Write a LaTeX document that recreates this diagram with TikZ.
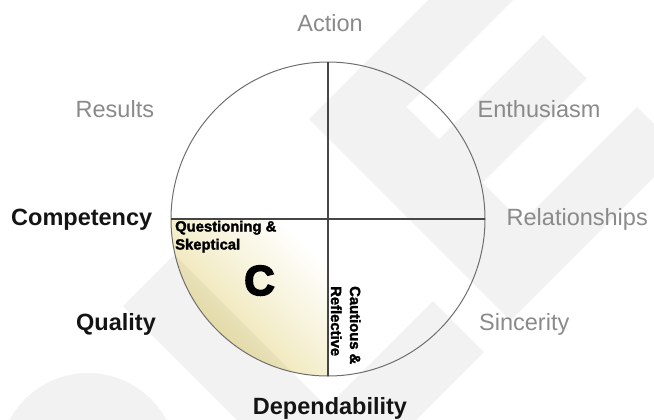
\documentclass[tikz,border=0pt]{standalone}
\usepackage{fontspec}
\setmainfont{Liberation Sans}
\newfontfamily\heavyfont[FakeBold=2]{Liberation Sans Bold}
\newfontfamily\blackfont[FakeBold=4]{Liberation Sans Bold}
\definecolor{lbl}{RGB}{138,138,138}
\definecolor{dark}{RGB}{20,20,20}
\definecolor{wm}{RGB}{242,242,242}
\definecolor{tanfill}{RGB}{232,220,152}
\definecolor{ring}{RGB}{110,110,110}
\definecolor{cross}{RGB}{70,70,70}
\tikzset{
  lab/.style={inner sep=0, text=lbl, font=\fontsize{23.5bp}{28bp}\selectfont},
  blab/.style={inner sep=0, text=dark, font=\bfseries\fontsize{23.5bp}{28bp}\selectfont},
  small/.style={inner sep=0, text=black, font=\heavyfont\fontsize{14.8bp}{18bp}\selectfont},
  big/.style={inner sep=0, text=black, font=\blackfont\fontsize{42bp}{46bp}\selectfont},
  wmark/.style={fill=wm},
  ringline/.style={draw=ring, line width=1bp},
  crossline/.style={draw=cross, line width=1.3bp},
}
\begin{document}
\begin{tikzpicture}[x=1bp,y=-1bp]
\useasboundingbox (0,0) rectangle (654,419);
% watermark
\begin{scope}
\clip (0,0) rectangle (654,419);
\fill[wmark] (428,0) -- (513,0) -- (406.5,106.5) -- (522,222) -- (637,107) -- (680.5,150.5) -- (510.5,320.5) -- (309,119) -- cycle;
\fill[wmark] (543,35) -- (586.5,78.5) -- (482.5,182.5) -- (439,139) -- cycle;
\fill[wmark] (433,301) -- (484,352) -- (396,440) -- (294,440) -- cycle;
\fill[wmark] (123,306) -- (174.5,254.5) -- (360,440) -- (257,440) -- cycle;
\fill[wmark] (88,462) circle[radius=89];
\end{scope}
% shaded quadrant
\coordinate (ctr) at (328,219);
\coordinate (west) at (171,219);
\coordinate (east) at (485,219);
\coordinate (north) at (328,62);
\coordinate (south) at (328,376);
\shade[top color=white, bottom color=tanfill, middle color=tanfill!45!white, shading angle=-45]
  (ctr) -- (west) arc[start angle=180, end angle=90, radius=157] -- cycle;
\begin{scope}
\clip (ctr) -- (west) arc[start angle=180, end angle=90, radius=157] -- cycle;
\fill[black, opacity=0.035] (123,306) -- (174.5,254.5) -- (360,440) -- (257,440) -- cycle;
\end{scope}
% circle and cross
\draw[ringline] (ctr) circle[radius=157];
\draw[crossline] (west) -- (east);
\draw[crossline] (north) -- (south);
% labels
\node[lab, anchor=base] (action) at (330,31) {Action};
\node[lab, anchor=base west] (results) at (75.5,117) {Results};
\node[lab, anchor=base west] (enthusiasm) at (477.5,117) {Enthusiasm};
\node[blab, anchor=base west] (competency) at (11,225) {Competency};
\node[lab, anchor=base west] (relationships) at (506.5,225) {Relationships};
\node[blab, anchor=base west] (quality) at (76,330) {Quality};
\node[lab, anchor=base west] (sincerity) at (479,330) {Sincerity};
\node[blab, anchor=base] (dependability) at (330,414) {Dependability};
% inner texts
\node[small, anchor=base west] (quest) at (175,231.5) {Questioning \&};
\node[small, anchor=base west] (skept) at (175,249.5) {Skeptical};
\node[big, anchor=base] (cletter) at (259.5,295) {C};
\node[small, rotate=-90, anchor=base west] (cautious) at (350,286) {Cautious \&};
\node[small, rotate=-90, anchor=base west] (reflective) at (331,286) {Reflective};
\end{tikzpicture}
\end{document}
